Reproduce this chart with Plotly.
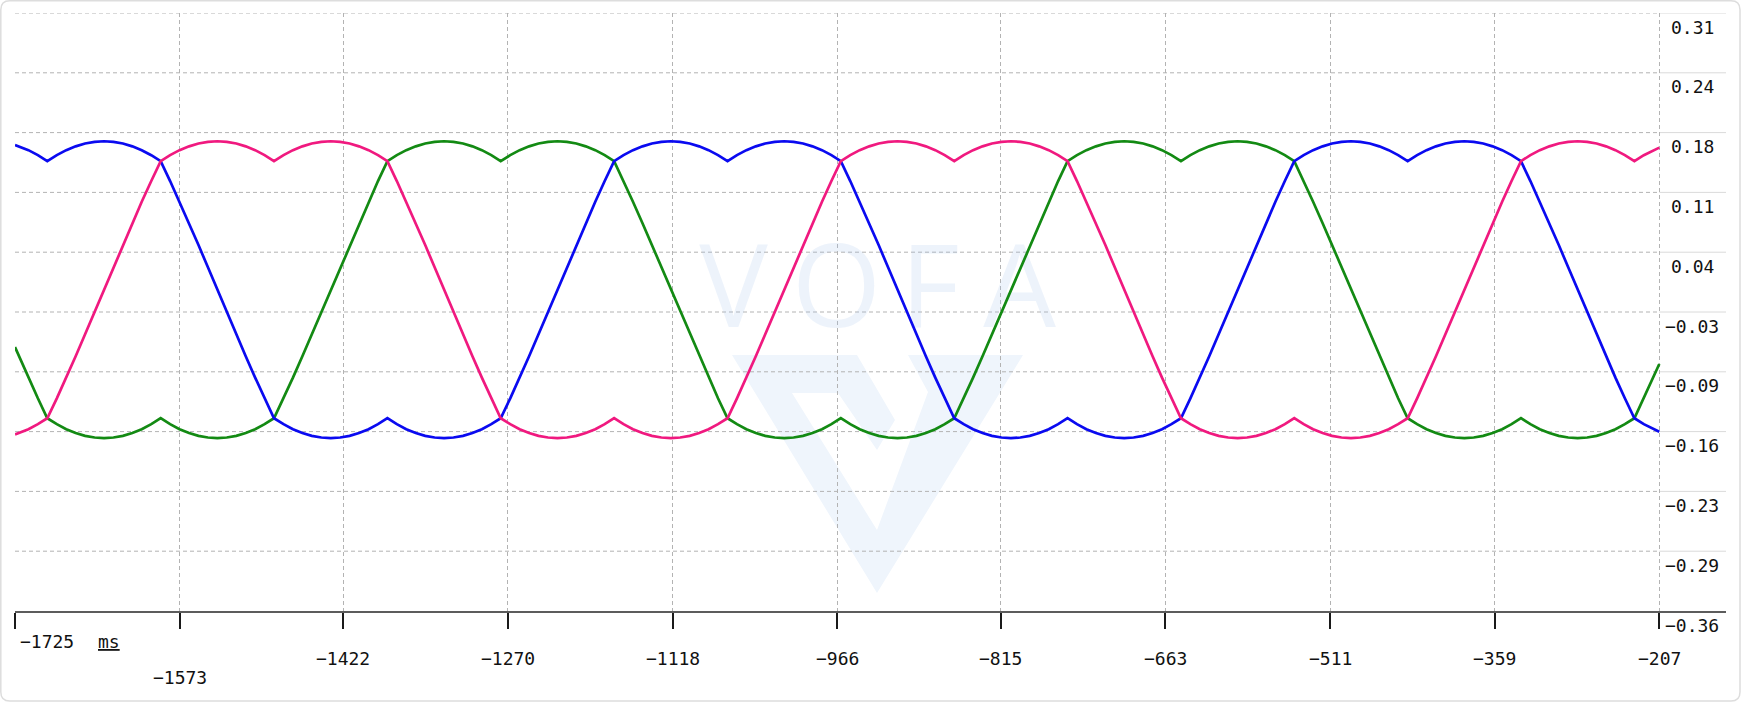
import plotly.graph_objects as go

# ---------------- data ----------------
time_ms = [
    -1725.0,
    -1721.3, -1712.6, -1703.9, -1695.2, -1686.4, -1677.7, -1669.0, -1660.3, -1651.5, -1642.8,
    -1634.1, -1625.4, -1616.7, -1608.0, -1599.2, -1590.5, -1581.8, -1573.1, -1564.3, -1555.6,
    -1546.9, -1538.2, -1529.5, -1520.7, -1512.0, -1503.3, -1494.6, -1485.9, -1477.1, -1468.4,
    -1459.7, -1451.0, -1442.2, -1433.5, -1424.8, -1416.1, -1407.4, -1398.6, -1389.9, -1381.2,
    -1372.5, -1363.8, -1355.0, -1346.3, -1337.6, -1328.9, -1320.2, -1311.4, -1302.7, -1294.0,
    -1285.3, -1276.6, -1267.8, -1259.1, -1250.4, -1241.7, -1232.9, -1224.2, -1215.5, -1206.8,
    -1198.1, -1189.3, -1180.6, -1171.9, -1163.2, -1154.5, -1145.7, -1137.0, -1128.3, -1119.6,
    -1110.9, -1102.1, -1093.4, -1084.7, -1076.0, -1067.2, -1058.5, -1049.8, -1041.1, -1032.4,
    -1023.6, -1014.9, -1006.2, -997.5, -988.8, -980.0, -971.3, -962.6, -953.9, -945.2,
    -936.4, -927.7, -919.0, -910.3, -901.6, -892.8, -884.1, -875.4, -866.7, -857.9,
    -849.2, -840.5, -831.8, -823.1, -814.3, -805.6, -796.9, -788.2, -779.5, -770.7,
    -762.0, -753.3, -744.6, -735.9, -727.1, -718.4, -709.7, -701.0, -692.3, -683.5,
    -674.8, -666.1, -657.4, -648.6, -639.9, -631.2, -622.5, -613.8, -605.0, -596.3,
    -587.6, -578.9, -570.2, -561.4, -552.7, -544.0, -535.3, -526.6, -517.8, -509.1,
    -500.4, -491.7, -483.0, -474.2, -465.5, -456.8, -448.1, -439.3, -430.6, -421.9,
    -413.2, -404.5, -395.7, -387.0, -378.3, -369.6, -360.9, -352.1, -343.4, -334.7,
    -326.0, -317.3, -308.5, -299.8, -291.1, -282.4, -273.6, -264.9, -256.2, -247.5,
    -238.8, -230.0, -221.3, -212.6,
    -207.0,
]

ch_blue = [
    0.1621,
    0.1606, 0.1563, 0.1507,
    0.1440, 0.1507, 0.1563, 0.1606, 0.1638, 0.1656, 0.1663, 0.1656, 0.1638, 0.1606, 0.1563, 0.1507,
    0.1440, 0.1217, 0.0985, 0.0745, 0.0500, 0.0251, 0.0000, -0.0251, -0.0500, -0.0745, -0.0985, -0.1217,
    -0.1440, -0.1507, -0.1563, -0.1606, -0.1638, -0.1656, -0.1663, -0.1656, -0.1638, -0.1606, -0.1563, -0.1507,
    -0.1440, -0.1507, -0.1563, -0.1606, -0.1638, -0.1656, -0.1663, -0.1656, -0.1638, -0.1606, -0.1563, -0.1507,
    -0.1440, -0.1217, -0.0985, -0.0745, -0.0500, -0.0251, 0.0000, 0.0251, 0.0500, 0.0745, 0.0985, 0.1217,
    0.1440, 0.1507, 0.1563, 0.1606, 0.1638, 0.1656, 0.1663, 0.1656, 0.1638, 0.1606, 0.1563, 0.1507,
    0.1440, 0.1507, 0.1563, 0.1606, 0.1638, 0.1656, 0.1663, 0.1656, 0.1638, 0.1606, 0.1563, 0.1507,
    0.1440, 0.1217, 0.0985, 0.0745, 0.0500, 0.0251, 0.0000, -0.0251, -0.0500, -0.0745, -0.0985, -0.1217,
    -0.1440, -0.1507, -0.1563, -0.1606, -0.1638, -0.1656, -0.1663, -0.1656, -0.1638, -0.1606, -0.1563, -0.1507,
    -0.1440, -0.1507, -0.1563, -0.1606, -0.1638, -0.1656, -0.1663, -0.1656, -0.1638, -0.1606, -0.1563, -0.1507,
    -0.1440, -0.1217, -0.0985, -0.0745, -0.0500, -0.0251, 0.0000, 0.0251, 0.0500, 0.0745, 0.0985, 0.1217,
    0.1440, 0.1507, 0.1563, 0.1606, 0.1638, 0.1656, 0.1663, 0.1656, 0.1638, 0.1606, 0.1563, 0.1507,
    0.1440, 0.1507, 0.1563, 0.1606, 0.1638, 0.1656, 0.1663, 0.1656, 0.1638, 0.1606, 0.1563, 0.1507,
    0.1440, 0.1217, 0.0985, 0.0745, 0.0500, 0.0251, 0.0000, -0.0251, -0.0500, -0.0745, -0.0985, -0.1217,
    -0.1440, -0.1507, -0.1563,
    -0.1592,
]

ch_pink = [
    -0.1621,
    -0.1606, -0.1563, -0.1507,
    -0.1440, -0.1217, -0.0985, -0.0745, -0.0500, -0.0251, 0.0000, 0.0251, 0.0500, 0.0745, 0.0985, 0.1217,
    0.1440, 0.1507, 0.1563, 0.1606, 0.1638, 0.1656, 0.1663, 0.1656, 0.1638, 0.1606, 0.1563, 0.1507,
    0.1440, 0.1507, 0.1563, 0.1606, 0.1638, 0.1656, 0.1663, 0.1656, 0.1638, 0.1606, 0.1563, 0.1507,
    0.1440, 0.1217, 0.0985, 0.0745, 0.0500, 0.0251, 0.0000, -0.0251, -0.0500, -0.0745, -0.0985, -0.1217,
    -0.1440, -0.1507, -0.1563, -0.1606, -0.1638, -0.1656, -0.1663, -0.1656, -0.1638, -0.1606, -0.1563, -0.1507,
    -0.1440, -0.1507, -0.1563, -0.1606, -0.1638, -0.1656, -0.1663, -0.1656, -0.1638, -0.1606, -0.1563, -0.1507,
    -0.1440, -0.1217, -0.0985, -0.0745, -0.0500, -0.0251, 0.0000, 0.0251, 0.0500, 0.0745, 0.0985, 0.1217,
    0.1440, 0.1507, 0.1563, 0.1606, 0.1638, 0.1656, 0.1663, 0.1656, 0.1638, 0.1606, 0.1563, 0.1507,
    0.1440, 0.1507, 0.1563, 0.1606, 0.1638, 0.1656, 0.1663, 0.1656, 0.1638, 0.1606, 0.1563, 0.1507,
    0.1440, 0.1217, 0.0985, 0.0745, 0.0500, 0.0251, 0.0000, -0.0251, -0.0500, -0.0745, -0.0985, -0.1217,
    -0.1440, -0.1507, -0.1563, -0.1606, -0.1638, -0.1656, -0.1663, -0.1656, -0.1638, -0.1606, -0.1563, -0.1507,
    -0.1440, -0.1507, -0.1563, -0.1606, -0.1638, -0.1656, -0.1663, -0.1656, -0.1638, -0.1606, -0.1563, -0.1507,
    -0.1440, -0.1217, -0.0985, -0.0745, -0.0500, -0.0251, 0.0000, 0.0251, 0.0500, 0.0745, 0.0985, 0.1217,
    0.1440, 0.1507, 0.1563, 0.1606, 0.1638, 0.1656, 0.1663, 0.1656, 0.1638, 0.1606, 0.1563, 0.1507,
    0.1440, 0.1507, 0.1563,
    0.1592,
]

ch_green = [
    -0.0643,
    -0.0745, -0.0985, -0.1217,
    -0.1440, -0.1507, -0.1563, -0.1606, -0.1638, -0.1656, -0.1663, -0.1656, -0.1638, -0.1606, -0.1563, -0.1507,
    -0.1440, -0.1507, -0.1563, -0.1606, -0.1638, -0.1656, -0.1663, -0.1656, -0.1638, -0.1606, -0.1563, -0.1507,
    -0.1440, -0.1217, -0.0985, -0.0745, -0.0500, -0.0251, 0.0000, 0.0251, 0.0500, 0.0745, 0.0985, 0.1217,
    0.1440, 0.1507, 0.1563, 0.1606, 0.1638, 0.1656, 0.1663, 0.1656, 0.1638, 0.1606, 0.1563, 0.1507,
    0.1440, 0.1507, 0.1563, 0.1606, 0.1638, 0.1656, 0.1663, 0.1656, 0.1638, 0.1606, 0.1563, 0.1507,
    0.1440, 0.1217, 0.0985, 0.0745, 0.0500, 0.0251, 0.0000, -0.0251, -0.0500, -0.0745, -0.0985, -0.1217,
    -0.1440, -0.1507, -0.1563, -0.1606, -0.1638, -0.1656, -0.1663, -0.1656, -0.1638, -0.1606, -0.1563, -0.1507,
    -0.1440, -0.1507, -0.1563, -0.1606, -0.1638, -0.1656, -0.1663, -0.1656, -0.1638, -0.1606, -0.1563, -0.1507,
    -0.1440, -0.1217, -0.0985, -0.0745, -0.0500, -0.0251, 0.0000, 0.0251, 0.0500, 0.0745, 0.0985, 0.1217,
    0.1440, 0.1507, 0.1563, 0.1606, 0.1638, 0.1656, 0.1663, 0.1656, 0.1638, 0.1606, 0.1563, 0.1507,
    0.1440, 0.1507, 0.1563, 0.1606, 0.1638, 0.1656, 0.1663, 0.1656, 0.1638, 0.1606, 0.1563, 0.1507,
    0.1440, 0.1217, 0.0985, 0.0745, 0.0500, 0.0251, 0.0000, -0.0251, -0.0500, -0.0745, -0.0985, -0.1217,
    -0.1440, -0.1507, -0.1563, -0.1606, -0.1638, -0.1656, -0.1663, -0.1656, -0.1638, -0.1606, -0.1563, -0.1507,
    -0.1440, -0.1507, -0.1563, -0.1606, -0.1638, -0.1656, -0.1663, -0.1656, -0.1638, -0.1606, -0.1563, -0.1507,
    -0.1440, -0.1217, -0.0985,
    -0.0832,
]

x_tick_vals = [-1725, -1573, -1422, -1270, -1118, -966, -815, -663, -511, -359, -207]
x_tick_text = ["−1725", "−1573", "−1422", "−1270", "−1118", "−966", "−815", "−663", "−511", "−359", "−207"]
y_tick_vals = [-0.36, -0.293, -0.226, -0.159, -0.092, -0.025, 0.042, 0.109, 0.176, 0.243, 0.31]
y_tick_text = ["−0.36", "−0.29", "−0.23", "−0.16", "−0.09", "−0.03", "0.04", "0.11", "0.18", "0.24", "0.31"]
x_unit = "ms"
watermark_letters = ["V", "O", "F", "A"]

# ---------------- layout constants ----------------
W, H = 1745, 707
ML, MR, MT, MB = 15, 19, 13, 96
X_MIN = -1725.0
MS_PER_PX = 1518.0 / 1644.3
X_MAX = X_MIN + (W - ML - MR) * MS_PER_PX
Y_MIN, Y_MAX = -0.36, 0.31
PW, PH = W - ML - MR, H - MT - MB

FONT = "DejaVu Sans Mono"
LABEL_SIZE = 18
LABEL_COLOR = "#111111"


def fx(px):
    return (px - ML) / PW


def fy(py):
    return (H - MB - py) / PH


def dx(px):
    return X_MIN + (px - ML) * MS_PER_PX


def dy(py):
    return Y_MAX - (py - MT) / PH * (Y_MAX - Y_MIN)


def poly_path(points):
    return "M " + " L ".join(f"{fx(x):.5f},{fy(y):.5f}" for x, y in points) + " Z"


def rounded_rect_path(x0, y0, x1, y1, r):
    pts = [
        ("M", (x0 + r, y0)), ("L", (x1 - r, y0)), ("Q", (x1, y0), (x1, y0 + r)),
        ("L", (x1, y1 - r)), ("Q", (x1, y1), (x1 - r, y1)), ("L", (x0 + r, y1)),
        ("Q", (x0, y1), (x0, y1 - r)), ("L", (x0, y0 + r)), ("Q", (x0, y0), (x0 + r, y0)),
    ]
    out = []
    for item in pts:
        cmd = item[0]
        coords = " ".join(f"{fx(p[0]):.5f},{fy(p[1]):.5f}" for p in item[1:])
        out.append(f"{cmd} {coords}")
    return " ".join(out) + " Z"


fig = go.Figure()

# watermark text (drawn first, so under the curves)
wm_px = [733.5, 836.5, 930.0, 1019.5]
fig.add_trace(go.Scatter(
    x=[dx(p) for p in wm_px], y=[dy(298)] * 4, mode="text",
    text=watermark_letters, textposition="middle center",
    textfont=dict(family="Open Sans", size=115, color="rgba(165,195,235,0.2)", weight=400),
    hoverinfo="skip", showlegend=False,
))

line_w = 2.7
fig.add_trace(go.Scatter(x=time_ms, y=ch_green, mode="lines",
                         line=dict(color="#138a13", width=line_w), name="CH3"))
fig.add_trace(go.Scatter(x=time_ms, y=ch_blue, mode="lines",
                         line=dict(color="#0a0af0", width=line_w), name="CH2"))
fig.add_trace(go.Scatter(x=time_ms, y=ch_pink, mode="lines",
                         line=dict(color="#f0197f", width=line_w), name="CH1"))

shapes = []
# watermark logo
logo_color = "#eff5fc"
shapes.append(dict(type="path", xref="paper", yref="paper", layer="below",
                   path=poly_path([(732, 355), (857, 355), (895, 420), (877, 450), (838, 393),
                                   (792, 393), (877, 530), (877, 593)]),
                   fillcolor=logo_color, line=dict(width=0)))
shapes.append(dict(type="path", xref="paper", yref="paper", layer="below",
                   path=poly_path([(908, 355), (1023, 355), (877, 593), (877, 530), (928, 392)]),
                   fillcolor=logo_color, line=dict(width=0)))

# horizontal grid (dashed over the data span, solid light in the label zone)
for yv in y_tick_vals[1:]:
    shapes.append(dict(type="line", xref="x", yref="y", layer="below",
                       x0=X_MIN, x1=x_tick_vals[-1], y0=yv, y1=yv,
                       line=dict(color="#b3b3b3", width=1, dash="4px,3px")))
    shapes.append(dict(type="line", xref="x", yref="y", layer="below",
                       x0=x_tick_vals[-1], x1=X_MAX, y0=yv, y1=yv,
                       line=dict(color="#dadada", width=1)))

# outer rounded frame
shapes.append(dict(type="path", xref="paper", yref="paper", layer="above",
                   path=rounded_rect_path(0.8, 0.8, 1740, 701, 9),
                   line=dict(color="#dddddd", width=1.5)))

annotations = []
label_font = dict(family=FONT, size=LABEL_SIZE, color=LABEL_COLOR)
for v, t in zip(y_tick_vals, y_tick_text):
    annotations.append(dict(x=x_tick_vals[-1], y=v, xref="x", yref="y", text=t, showarrow=False,
                            xanchor="center", yanchor="middle", xshift=33, yshift=-14,
                            font=label_font))
for i, (v, t) in enumerate(zip(x_tick_vals, x_tick_text)):
    if i == 0:
        a = dict(xanchor="left", xshift=3, yshift=-30)
    elif i == 1:
        a = dict(xanchor="center", xshift=0, yshift=-66)
    else:
        a = dict(xanchor="center", xshift=0, yshift=-47)
    annotations.append(dict(x=v, y=0, xref="x", yref="paper", text=t, showarrow=False,
                            yanchor="middle", font=label_font, **a))
annotations.append(dict(x=x_tick_vals[0], y=0, xref="x", yref="paper",
                        text=f'<span style="text-decoration:underline">{x_unit}</span>',
                        showarrow=False, xanchor="left", yanchor="middle", xshift=81, yshift=-30,
                        font=label_font))

fig.update_layout(
    width=W, height=H,
    margin=dict(l=ML, r=MR, t=MT, b=MB, pad=0),
    paper_bgcolor="white", plot_bgcolor="white",
    showlegend=False,
    shapes=shapes, annotations=annotations,
    xaxis=dict(range=[X_MIN, X_MAX], tickmode="array", tickvals=x_tick_vals,
               showticklabels=False, ticks="outside", ticklen=16, tickwidth=2,
               tickcolor="#1a1a1a", showgrid=True, gridcolor="#b3b3b3", gridwidth=1,
               griddash="4px,3px", showline=True, linecolor="#5c5c5c", linewidth=1.5,
               zeroline=False, fixedrange=True),
    yaxis=dict(range=[Y_MIN, Y_MAX], showgrid=False, showticklabels=False, ticks="",
               showline=False, zeroline=False, fixedrange=True),
)

fig.write_html("out.html", include_plotlyjs=True, full_html=True,
               config={"displayModeBar": False},
               post_script="document.body.style.margin='0';document.body.style.overflow='hidden';")
